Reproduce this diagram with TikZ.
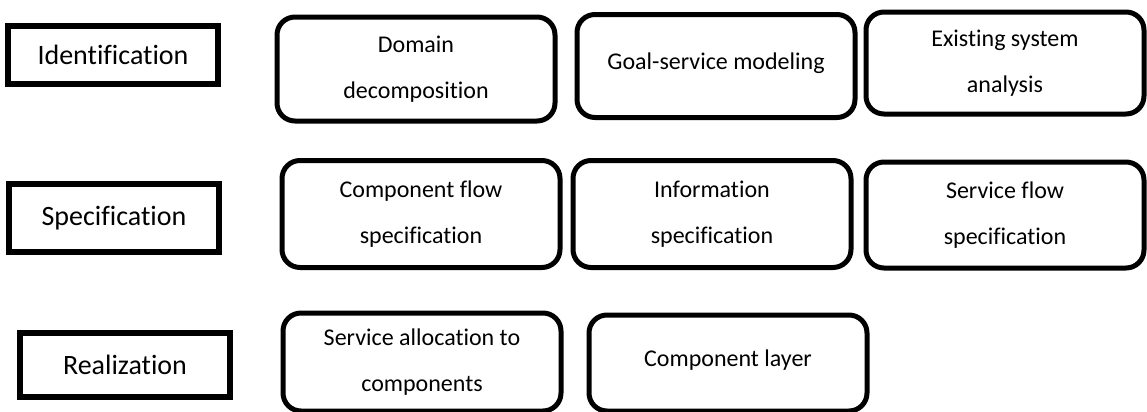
\documentclass[tikz,border=0pt]{standalone}
\usepackage{fontspec}
\setmainfont{Carlito}[Ligatures=NoCommon]
\usepackage{tikz}

\begin{document}
\begin{tikzpicture}[x=0.5pt,y=-0.5pt,
	phase/.style={draw,line width=2.75pt,minimum width=105pt,font=\fontsize{14}{17}\selectfont},
	task/.style={draw,line width=2.5pt,rounded corners=9pt,align=center,minimum width=139pt,font=\fontsize{12}{23}\selectfont}]
	\useasboundingbox (0,0) rectangle (1147,412);

%phases
	\node[phase,minimum height=29pt] (ident) at (113,55) {Identification};
	\node[phase,minimum height=34pt] (spec) at (114,218) {Specification};
	\node[phase,minimum height=32pt] (real) at (125,365) {Realization};

%identification row
	\node[task,minimum height=52pt] (domain) at (416,69) {Domain\\decomposition};
	\node[task,minimum height=51.5pt] (goal) at (716,66) {\raisebox{5pt}{Goal-service modeling}};
	\node[task,minimum height=51pt] (legacy) at (1005,63) {Existing system\\analysis};

%specification row
	\node[task,minimum height=53.5pt] (compflow) at (421,214) {Component flow\\specification};
	\node[task,minimum height=53.5pt] (info) at (712,214) {Information\\specification};
	\node[task,minimum height=53pt] (servflow) at (1005,215) {Service flow\\specification};

%realization row
	\node[task,minimum height=49pt] (alloc) at (422,362) {Service allocation to\\components};
	\node[task,minimum height=48pt] (complayer) at (728,363) {\raisebox{5pt}{Component layer}};
\end{tikzpicture}
\end{document}
